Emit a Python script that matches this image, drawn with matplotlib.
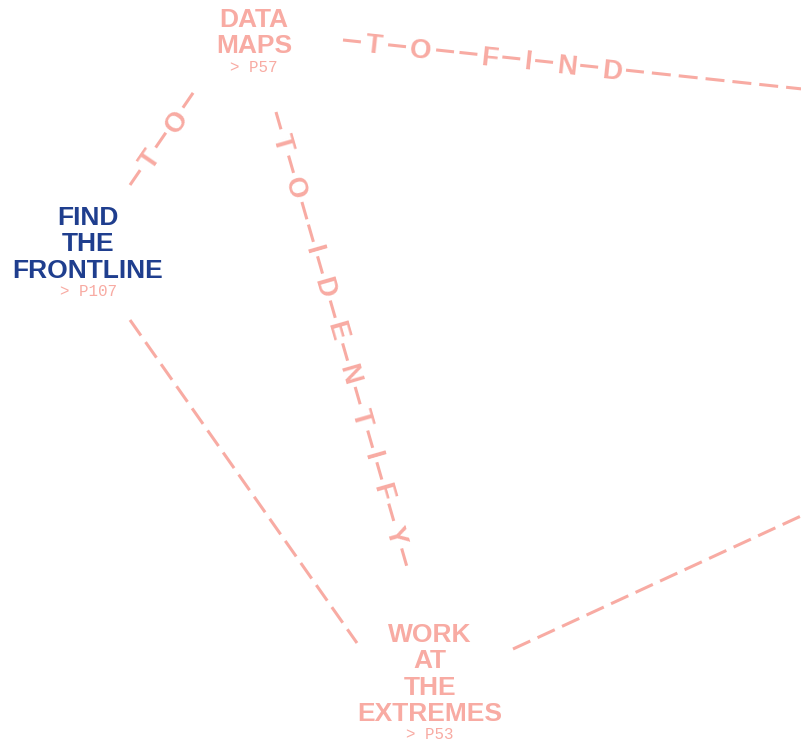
import numpy as np
import matplotlib.pyplot as plt
from matplotlib.textpath import TextPath
from matplotlib.font_manager import FontProperties

pink = '#f8aba3'
blue = '#1f3e8e'

# nodes: text lines, centre x, first baseline y (pixels), colour, page ref
node_lines = [['DATA', 'MAPS'],
              ['FIND', 'THE', 'FRONTLINE'],
              ['WORK', 'AT', 'THE', 'EXTREMES']]
node_x = [254, 88, 430]
node_y = [27, 225, 642]
node_colors = [pink, blue, pink]
node_refs = ['> P57', '> P107', '> P53']

# edges between nodes (pixel coords), with the words written along them
edge_x0 = [130, 343, 276, 130, 513]
edge_y0 = [185, 40, 112, 320, 649]
edge_x1 = [193, 840, 407, 357, 840]
edge_y1 = [93, 93, 567, 643, 498]
edge_words = ['TO', 'TO FIND', 'TO IDENTIFY', '', '']

# styling
title_pt = 19
line_pitch = 26.3
ref_gap = 18.5
ref_pt = 11.4
letter_pt = 20
letter_px = letter_pt * 100 / 72
dash_word, gap_word = 18, 5.5
dash_plain, gap_plain = 19, 8
min_dash = 7
lw = 2.2

fig = plt.figure(figsize=(8.01, 7.41), dpi=100)
ax = fig.add_axes([0, 0, 1, 1])
ax.set_xlim(0, 801)
ax.set_ylim(741, 0)
ax.axis('off')

letter_font = FontProperties(family='Liberation Sans', weight='bold')


def ink_width(ch):
    return TextPath((0, 0), ch, size=letter_px, prop=letter_font).get_extents().width


def draw_edge(x0, y0, x1, y1, word):
    p0 = np.array([x0, y0], float)
    p1 = np.array([x1, y1], float)
    L = np.hypot(*(p1 - p0))
    u = (p1 - p0) / L
    ang = np.degrees(np.arctan2(-u[1], u[0]))

    def seg(a, b):
        pa, pb = p0 + u * a, p0 + u * b
        ax.plot([pa[0], pb[0]], [pa[1], pb[1]], color=pink, lw=lw,
                solid_capstyle='butt')

    s = 0
    if word:
        # dash between letters, double dash between words
        tokens = '-' + '--'.join('-'.join(w) for w in word.split()) + '-'
        for i, t in enumerate(tokens):
            if i:
                s += gap_word
            if t == '-':
                seg(s, s + dash_word)
                s += dash_word
            else:
                w = ink_width(t)
                c = p0 + u * (s + w / 2)
                ax.text(c[0], c[1], t, fontsize=letter_pt, color=pink,
                        family='Liberation Sans', weight='bold',
                        rotation=ang, rotation_mode='anchor',
                        ha='center', va='center_baseline')
                s += w
        s += gap_plain
    while L - s >= min_dash:
        seg(s, min(s + dash_plain, L))
        s += dash_plain + gap_plain


for i in range(len(edge_words)):
    draw_edge(edge_x0[i], edge_y0[i], edge_x1[i], edge_y1[i], edge_words[i])

for lines, x, y, col, ref in zip(node_lines, node_x, node_y, node_colors, node_refs):
    for k, line in enumerate(lines):
        ax.text(x, y + k * line_pitch, line, fontsize=title_pt, color=col,
                family='Liberation Sans', weight='bold',
                ha='center', va='baseline')
    ax.text(x, y + (len(lines) - 1) * line_pitch + ref_gap, ref, fontsize=ref_pt,
            color=pink, family='Liberation Mono', ha='center', va='baseline')

fig.savefig('out.png', dpi=100)
